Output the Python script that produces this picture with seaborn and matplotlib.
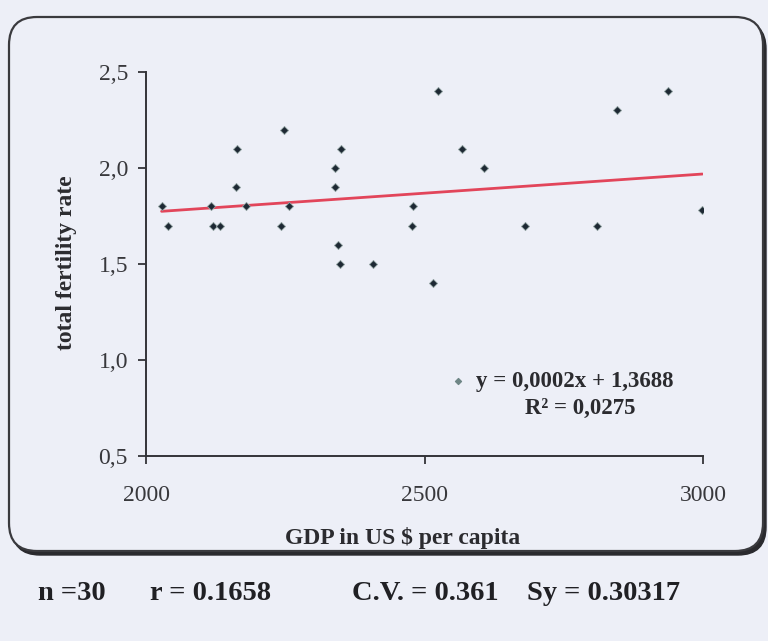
import matplotlib
matplotlib.use("Agg")
import matplotlib.pyplot as plt
from matplotlib.patches import FancyBboxPatch
from matplotlib.transforms import IdentityTransform
import numpy as np
import pandas as pd
import seaborn as sns

# GDP per capita (US $) and total fertility rate
gdp = [2028, 2040, 2116, 2120, 2132, 2161, 2164, 2180, 2242, 2248,
       2257, 2340, 2340, 2345, 2348, 2350, 2407, 2477, 2480, 2516,
       2525, 2567, 2607, 2681, 2809, 2846, 2937, 2999]
tfr = [1.8, 1.7, 1.8, 1.7, 1.7, 1.9, 2.1, 1.8, 1.7, 2.2,
       1.8, 1.9, 2.0, 1.6, 1.5, 2.1, 1.5, 1.7, 1.8, 1.4,
       2.4, 2.1, 2.0, 1.7, 1.7, 2.3, 2.4, 1.78]

# linear trend as reported
slope = 0.0002
intercept = 1.3688
r_squared = 0.0275

x_ticks = [2000, 2500, 3000]
x_tick_labels = ["2000", "2500", "3000"]
y_ticks = [0.5, 1.0, 1.5, 2.0, 2.5]
y_tick_labels = ["0,5", "1,0", "1,5", "2,0", "2,5"]

stats_labels = ["n =30", "r = 0.1658", "C.V. = 0.361", "Sy = 0.30317"]

BG = "#edeff7"
INK = "#2b2b2f"

sns.set_theme(style="white")
plt.rcParams["font.family"] = ["Liberation Serif", "DejaVu Serif"]
plt.rcParams["axes.facecolor"] = "none"
plt.rcParams["figure.facecolor"] = BG

W, H = 768, 641
fig = plt.figure(figsize=(W / 100, H / 100), dpi=100)

# rounded frame with a drop shadow (pixel coordinates, origin bottom-left)
fx0, fx1 = 9, 763
fy_top, fy_bot = 17, 551
shadow = FancyBboxPatch((fx0 + 3, H - fy_bot - 4), fx1 - fx0, fy_bot - fy_top,
                        boxstyle="round,pad=0,rounding_size=28",
                        transform=IdentityTransform(), facecolor="#2a2a2e",
                        edgecolor="#2a2a2e", linewidth=1.0, zorder=-3)
frame = FancyBboxPatch((fx0, H - fy_bot), fx1 - fx0, fy_bot - fy_top,
                       boxstyle="round,pad=0,rounding_size=28",
                       transform=IdentityTransform(), facecolor=BG,
                       edgecolor="#3a3a3e", linewidth=1.6, zorder=-2)
fig.patches.extend([shadow, frame])

ax_left, ax_right, ax_top, ax_bot = 146, 703, 72, 456
ax = fig.add_axes([ax_left / W, 1 - ax_bot / H,
                   (ax_right - ax_left) / W, (ax_bot - ax_top) / H])
ax.set_zorder(1)

df = pd.DataFrame({"gdp": gdp, "tfr": tfr})
sns.scatterplot(data=df, x="gdp", y="tfr", ax=ax, marker="D", s=17,
                color="#1d2833", edgecolor="#93a3a3", linewidth=0.6,
                zorder=3, legend=False)

# trend line over the observed range
x_line = np.array([min(gdp), max(gdp)])
trend = pd.DataFrame({"gdp": x_line, "fit": slope * x_line + intercept})
sns.lineplot(data=trend, x="gdp", y="fit", ax=ax, color="#e2455a",
             linewidth=2.0, zorder=2)

ax.set_xlim(2000, 3000)
ax.set_ylim(0.5, 2.5)
ax.set_xticks(x_ticks)
ax.set_xticklabels(x_tick_labels)
ax.set_yticks(y_ticks)
ax.set_yticklabels(y_tick_labels)

for side in ("top", "right"):
    ax.spines[side].set_visible(False)
for side in ("left", "bottom"):
    ax.spines[side].set_color("#333338")
    ax.spines[side].set_linewidth(1.4)

ax.tick_params(axis="both", which="major", left=True, bottom=True,
               direction="out", length=6, width=1.3, color="#333338",
               labelsize=17, labelcolor="#38383c")
ax.tick_params(axis="x", pad=15)
ax.tick_params(axis="y", pad=7)

ax.set_xlabel("GDP in US $ per capita", fontsize=17, fontweight="bold",
              color=INK)
ax.set_ylabel("total fertility rate", fontsize=17, fontweight="bold",
              color=INK)
ax.xaxis.set_label_coords(0.46, -0.185)
ax.yaxis.set_label_coords(-0.124, 0.503)

# trend legend: marker, equation and R²
ax.scatter([0.560], [0.195], transform=ax.transAxes, marker="D", s=9,
           color="#6f8686", zorder=4, clip_on=False)
ax.text(0.770, 0.195, f"y = {slope:.4f}x + {intercept:.4f}".replace(".", ","),
        transform=ax.transAxes, ha="center", va="center", fontsize=16.5,
        fontweight="bold", color=INK)
ax.text(0.779, 0.125, f"R² = {r_squared:.4f}".replace(".", ","),
        transform=ax.transAxes, ha="center", va="center", fontsize=16.5,
        fontweight="bold", color=INK)

# summary statistics below the frame
stats_x = [38, 150, 352, 527]
for label, xp in zip(stats_labels, stats_x):
    fig.text(xp / W, 1 - 594 / H, label, ha="left", va="center",
             fontsize=20.5, fontweight="bold", color="#202024")

fig.savefig("out.png", dpi=100, facecolor=BG)
